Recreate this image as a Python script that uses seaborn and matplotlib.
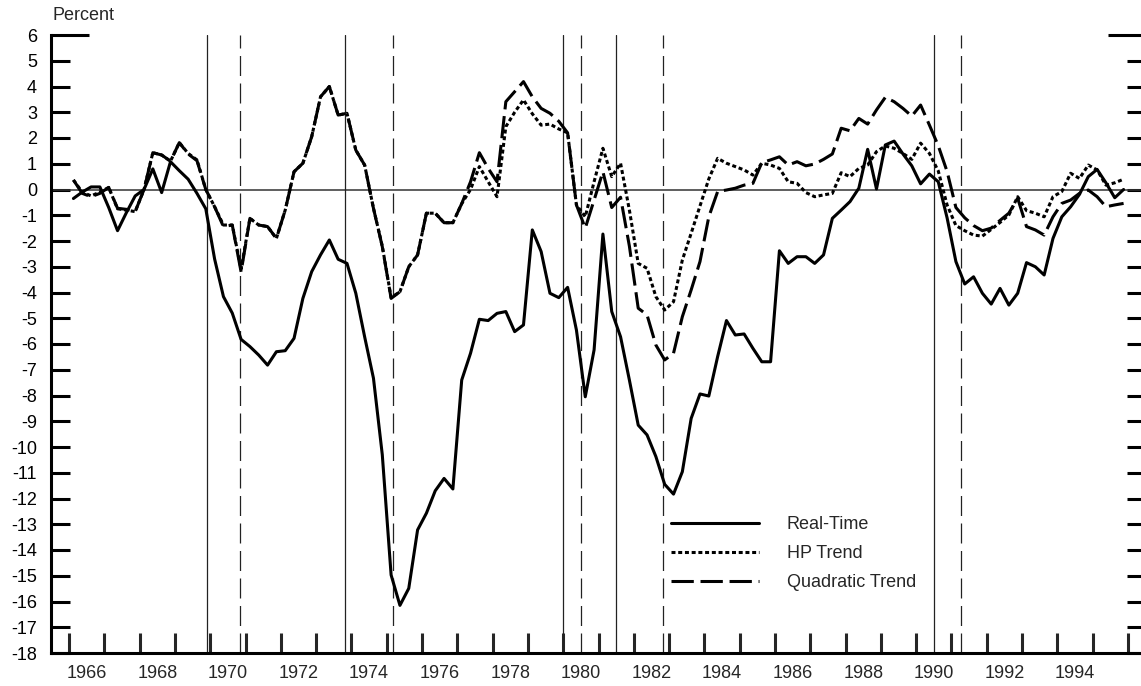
import numpy as np
import pandas as pd
import matplotlib
matplotlib.use("Agg")
import matplotlib.pyplot as plt
import seaborn as sns

# ---------------- data ----------------
quarters = pd.period_range("1966Q1", "1995Q4", freq="Q")

real_time = [
    -0.35, -0.10, 0.10, 0.10, -0.70, -1.60, -0.90, -0.25,      # 1966-67
    0.00, 0.80, -0.12, 1.08, 0.73, 0.40, -0.15, -0.75,         # 1968-69
    -2.70, -4.16, -4.80, -5.82, -6.10, -6.43, -6.82, -6.30,    # 1970-71
    -6.26, -5.78, -4.23, -3.19, -2.54, -1.96, -2.71, -2.87,    # 1972-73
    -4.03, -5.72, -7.33, -10.30, -14.97, -16.15, -15.49, -13.22,  # 1974-75
    -12.57, -11.70, -11.22, -11.63, -7.40, -6.36, -5.04, -5.09,   # 1976-77
    -4.81, -4.74, -5.52, -5.26, -1.57, -2.41, -4.03, -4.20,    # 1978-79
    -3.80, -5.46, -8.05, -6.23, -1.73, -4.74, -5.72, -7.40,    # 1980-81
    -9.15, -9.53, -10.37, -11.45, -11.83, -10.96, -8.89, -7.94,   # 1982-83
    -8.02, -6.49, -5.09, -5.65, -5.61, -6.17, -6.69, -6.69,    # 1984-85
    -2.38, -2.87, -2.61, -2.61, -2.87, -2.54, -1.12, -0.80,    # 1986-87
    -0.47, 0.05, 1.56, 0.02, 1.73, 1.88, 1.38, 0.92,           # 1988-89
    0.22, 0.60, 0.30, -1.10, -2.80, -3.67, -3.39, -4.03,       # 1990-91
    -4.45, -3.84, -4.49, -4.03, -2.84, -3.00, -3.32, -1.90,    # 1992-93
    -1.06, -0.67, -0.19, 0.50, 0.78, 0.26, -0.32, 0.00,        # 1994-95
]

hp_trend = [
    0.37, -0.10, -0.25, -0.10, 0.08, -0.75, -0.80, -0.86,
    0.00, 1.43, 1.34, 1.10, 1.82, 1.40, 1.15, 0.00,
    -0.67, -1.38, -1.38, -3.10, -1.12, -1.38, -1.44, -1.90,
    -0.80, 0.69, 1.02, 2.05, 3.60, 4.00, 2.89, 2.96,
    1.53, 0.95, -0.73, -2.20, -4.20, -3.97, -3.00, -2.54,
    -0.92, -0.92, -1.29, -1.29, -0.55, 0.00, 0.89, 0.30,
    -0.28, 2.44, 3.00, 3.48, 2.94, 2.50, 2.54, 2.35,
    2.20, -0.60, -1.06, 0.30, 1.60, 0.50, 1.02, -0.80,
    -2.87, -3.06, -4.16, -4.68, -4.36, -2.74, -1.70, -0.64,
    0.41, 1.21, 1.02, 0.89, 0.76, 0.56, 1.02, 0.95,
    0.82, 0.30, 0.24, -0.12, -0.28, -0.21, -0.15, 0.65,
    0.50, 0.82, 0.95, 1.47, 1.69, 1.60, 1.40, 1.17,
    1.80, 1.40, 0.72, -0.60, -1.40, -1.60, -1.77, -1.81,
    -1.55, -1.28, -0.99, -0.28, -0.82, -0.92, -1.06, -0.28,
    -0.08, 0.63, 0.43, 0.95, 0.76, 0.17, 0.26, 0.40,
]

quadratic_trend = [
    0.37, -0.15, -0.28, -0.15, 0.08, -0.73, -0.77, -0.86,
    0.00, 1.43, 1.34, 1.10, 1.82, 1.38, 1.12, 0.00,
    -0.67, -1.44, -1.38, -3.20, -1.12, -1.38, -1.44, -1.90,
    -0.80, 0.69, 1.02, 2.05, 3.60, 4.00, 2.89, 2.96,
    1.53, 0.95, -0.73, -2.22, -4.23, -3.97, -3.00, -2.54,
    -0.92, -0.92, -1.29, -1.29, -0.55, 0.30, 1.43, 0.82,
    0.30, 3.41, 3.80, 4.19, 3.60, 3.15, 2.96, 2.65,
    2.20, -0.60, -1.50, -0.41, 0.69, -0.70, -0.30, -2.20,
    -4.61, -4.87, -6.04, -6.62, -6.36, -4.94, -3.90, -2.80,
    -1.06, -0.08, -0.02, 0.05, 0.17, 0.24, 1.04, 1.15,
    1.27, 0.95, 1.08, 0.92, 0.99, 1.17, 1.38, 2.38,
    2.28, 2.76, 2.54, 3.09, 3.58, 3.41, 3.15, 2.85,
    3.28, 2.50, 1.70, 0.70, -0.70, -1.10, -1.40, -1.60,
    -1.50, -1.20, -0.92, -0.34, -1.44, -1.57, -1.77, -1.06,
    -0.54, -0.41, -0.15, -0.02, -0.28, -0.67, -0.60, -0.54,
]

series_names = ["Real-Time", "HP Trend", "Quadratic Trend"]
peaks = [1969.92, 1973.83, 1980.00, 1981.50, 1990.50]      # solid verticals
troughs = [1970.83, 1975.17, 1980.50, 1982.83, 1991.26]    # dashed verticals
year_labels = list(range(1966, 1995, 2))
year_ticks = list(range(1966, 1997))
y_ticks = list(range(-18, 6))
y_top = 6

# ---------------- style ----------------
sns.set_style("white")
plt.rcParams["font.family"] = ["Liberation Sans", "DejaVu Sans"]

W, H = 1141, 686
fig = plt.figure(figsize=(W / 100, H / 100), dpi=100)
# axes box in pixels: left 51, right 1146 (just off the image), top 35, bottom 653
ax = fig.add_axes([51 / W, (H - 653) / H, (1146 - 51) / W, (653 - 35) / H])

t = quarters.year + (quarters.quarter - 0.5) / 4.0
LW = 2.2

sns.lineplot(x=t, y=real_time, ax=ax, color="black", lw=LW,
             label=series_names[0], estimator=None)
sns.lineplot(x=t, y=hp_trend, ax=ax, color="black", lw=LW,
             linestyle=(0, (1.3, 0.9)), label=series_names[1], estimator=None)
sns.lineplot(x=t, y=quadratic_trend, ax=ax, color="black", lw=LW,
             linestyle=(0, (7.3, 2.2)), label=series_names[2], estimator=None)

ax.axhline(0, color="#333333", lw=1.1, zorder=1)
for p in peaks:
    ax.axvline(p, color="#222222", lw=0.9, zorder=1)
for tr in troughs:
    ax.axvline(tr, color="#222222", lw=0.9, ls=(0, (16, 6)), zorder=1)

ax.set_xlim(1965.49, 1996.51)
ax.set_ylim(-18, 6)

# y ticks (both sides, inward); the top tick is longer
ax.set_yticks(y_ticks)
ax.set_yticklabels([str(v) for v in y_ticks])
ax.set_yticks([y_top], labels=[str(y_top)], minor=True)
ax.tick_params(axis="y", which="major", direction="in", length=13.7, width=2.2,
               left=True, right=True, labelsize=13, pad=10, colors="black")
ax.tick_params(axis="y", which="minor", direction="in", length=27.4, width=2.2,
               left=True, right=True, labelsize=13, pad=10, colors="black")

# x ticks at year boundaries, labels centred in the year
ax.set_xticks(year_ticks)
ax.set_xticklabels([])
ax.set_xticks([y + 0.5 for y in year_labels], labels=[str(y) for y in year_labels],
              minor=True)
ax.tick_params(axis="x", which="major", direction="in", length=14.4, width=2.2,
               bottom=True, top=False)
ax.tick_params(axis="x", which="minor", length=0, labelsize=13, pad=8.5,
               bottom=True, top=False)

for s in ["top", "right"]:
    ax.spines[s].set_visible(False)
for s in ["left", "bottom"]:
    ax.spines[s].set_linewidth(2.2)
    ax.spines[s].set_color("black")
ax.set_xlabel("")
ax.set_ylabel("")

ax.legend(frameon=False, fontsize=13, handlelength=4.9, handletextpad=1.5,
          labelspacing=0.66, borderpad=0, borderaxespad=0, loc="upper left",
          bbox_to_anchor=(671 / W, 1 - 516 / H), bbox_transform=fig.transFigure)

fig.text(52 / W, 1 - 15 / H, "Percent", fontsize=13, ha="left", va="center")

fig.savefig("out.png", dpi=100)
